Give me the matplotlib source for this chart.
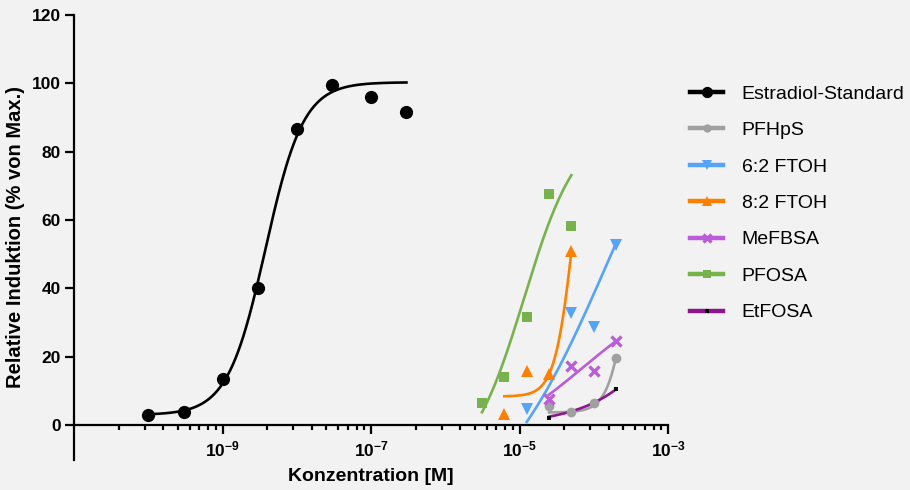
import numpy as np
import matplotlib
matplotlib.use("Agg")
import matplotlib.pyplot as plt
from matplotlib.lines import Line2D
from matplotlib.ticker import FixedLocator, NullFormatter

plt.rcParams.update({
    "font.family": "Liberation Sans",
    "mathtext.fontset": "custom",
    "mathtext.rm": "Liberation Sans:bold",
    "mathtext.bf": "Liberation Sans:bold",
    "mathtext.it": "Liberation Sans:bold",
})

BG = "#f2f2f2"

# measured points: concentration [M] and relative induction [% of max]
conc_e2 = [1e-10, 3e-10, 1e-9, 3e-9, 1e-8, 3e-8, 1e-7, 3e-7]
resp_e2 = [2.9, 3.7, 13.4, 40.2, 86.5, 99.5, 95.9, 91.5]
conc_pfhps = [2.5e-5, 5e-5, 1e-4, 2e-4]
resp_pfhps = [5.4, 3.7, 6.3, 19.7]
conc_ftoh62 = [1.25e-5, 5e-5, 1e-4, 2e-4]
resp_ftoh62 = [4.7, 32.6, 28.5, 52.7]
conc_ftoh82 = [6.25e-6, 1.25e-5, 2.5e-5, 5e-5]
resp_ftoh82 = [3.2, 15.9, 14.9, 50.9]
conc_mefbsa = [2.5e-5, 5e-5, 1e-4, 2e-4]
resp_mefbsa = [7.7, 17.3, 15.7, 24.6]
conc_pfosa = [3.125e-6, 6.25e-6, 1.25e-5, 2.5e-5, 5e-5]
resp_pfosa = [6.5, 14.1, 31.7, 67.6, 58.2]
conc_etfosa = [2.5e-5, 5e-5, 1e-4, 2e-4]
resp_etfosa = [2.0, 3.8, 6.2, 10.4]

# 4-parameter logistic fits: bottom, span, logEC50, hill
fit_e2 = (2.9, 97.4, -8.42, 1.7)
fit_pfhps = (3.6, 100.0, -3.477, 3.2)
fit_ftoh62 = (-30.3, 157.0, -3.80, 0.55)
fit_ftoh82 = (8.3, 100.0, -4.262, 3.4)
fit_mefbsa = (-9.3, 52.0, -4.15, 0.6)
fit_pfosa = (-14.0, 102.0, -4.94, 1.2)
fit_etfosa = (0.0, 100.0, -2.452, 0.75)

labels = ["Estradiol-Standard", "PFHpS", "6:2 FTOH", "8:2 FTOH",
          "MeFBSA", "PFOSA", "EtFOSA"]
xtick_labels = [r"$10^{-9}$", r"$10^{-7}$", r"$10^{-5}$", r"$10^{-3}$"]

series = [
    # conc, resp, fit, line colour, marker, marker size, marker colour, z
    (conc_e2, resp_e2, fit_e2, "#000000", "o", 9.5, "#000000", 3),
    (conc_pfhps, resp_pfhps, fit_pfhps, "#a0a0a0", "o", 7, "#a0a0a0", 3),
    (conc_ftoh62, resp_ftoh62, fit_ftoh62, "#55a3fb", "v", 8, "#55a3fb", 3),
    (conc_ftoh82, resp_ftoh82, fit_ftoh82, "#ff8000", "^", 8, "#ff8000", 3),
    (conc_mefbsa, resp_mefbsa, fit_mefbsa, "#bb5cda", "x", 7.5, "#bb5cda", 3),
    (conc_pfosa, resp_pfosa, fit_pfosa, "#78b24c", "s", 7, "#78b24c", 3),
    (conc_etfosa, resp_etfosa, fit_etfosa, "#8c168c", "s", 3.5, "#000000", 2.5),
]


def logistic(conc, fit):
    bottom, span, logec50, hill = fit
    return bottom + span / (1 + 10 ** ((logec50 - np.log10(conc)) * hill))


fig = plt.figure(figsize=(9.1, 4.9), dpi=100)
fig.patch.set_facecolor(BG)
ax = fig.add_axes([74 / 910, 30 / 490, 594 / 910, 445 / 490])
ax.set_facecolor(BG)

handles = []
for conc, resp, fit, col, mk, ms, mcol, z in series:
    xs = np.logspace(np.log10(min(conc)), np.log10(max(conc)), 300)
    ax.plot(xs, logistic(xs, fit), color=col, lw=1.9, zorder=2)
    mew = 2.4 if mk == "x" else 0
    ax.plot(conc, resp, ls="none", marker=mk, ms=ms, color=mcol,
            mec=mcol, mew=mew, zorder=z, clip_on=False)
    handles.append(Line2D([], [], color=col, lw=3.2, marker=mk,
                          ms=ms * 0.85, mfc=mcol, mec=mcol, mew=mew))

ax.set_xscale("log")
ax.set_xlim(1e-11, 1e-3)
ax.set_ylim(-10.3, 120)

# Prism style log axis: labelled every two decades, minor ticks log-spaced
majors = [1e-11, 1e-9, 1e-7, 1e-5, 1e-3]
minors = [m * k ** 2 for m in majors[:-1] for k in range(2, 10)]
ax.xaxis.set_major_locator(FixedLocator(majors[1:]))
ax.xaxis.set_minor_locator(FixedLocator(minors))
ax.set_xticklabels(xtick_labels)
ax.xaxis.set_minor_formatter(NullFormatter())
ax.set_yticks(range(0, 121, 20))

for s in ["top", "right"]:
    ax.spines[s].set_visible(False)
ax.spines["bottom"].set_position(("data", 0))
for s in ["left", "bottom"]:
    ax.spines[s].set_linewidth(1.6)
ax.tick_params(axis="x", which="major", length=6.5, width=1.6,
               labelsize=12.5, pad=4)
ax.tick_params(axis="x", which="minor", length=3.8, width=1.6)
ax.tick_params(axis="y", length=6.5, width=1.6, labelsize=12.5, pad=3)
for t in ax.get_yticklabels():
    t.set_fontweight("bold")

ax.set_xlabel("Konzentration [M]", fontsize=14, fontweight="bold")
ax.xaxis.set_label_coords(0.5, -0.018)
ax.set_ylabel("Relative Induktion (% von Max.)", fontsize=14.5,
              fontweight="bold")
ax.yaxis.set_label_coords(-0.083, 0.5)

fig.legend(handles, labels, loc="upper left",
           bbox_to_anchor=(690 / 910, 1 - 85 / 490), frameon=False,
           fontsize=14, handlelength=1.7, handletextpad=0.95,
           labelspacing=0.97, borderpad=0, borderaxespad=0)

fig.savefig("out.png", facecolor=BG)
